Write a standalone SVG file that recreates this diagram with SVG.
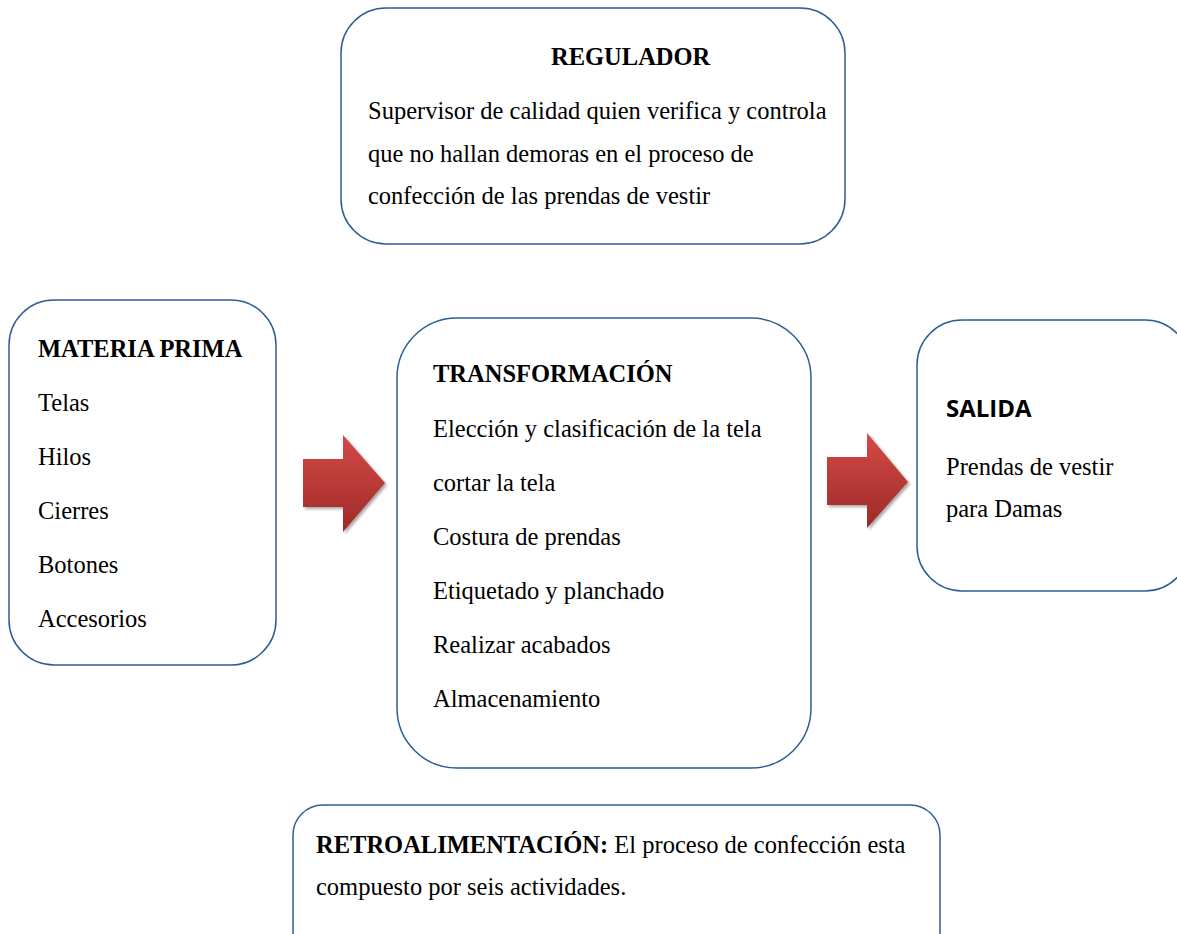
<svg xmlns="http://www.w3.org/2000/svg" width="1177" height="934" viewBox="0 0 1177 934">
<defs>
<linearGradient id="red" x1="0" y1="0" x2="0" y2="1">
<stop offset="0" stop-color="#d44a48"/>
<stop offset="1" stop-color="#9e2a27"/>
</linearGradient>
<filter id="sh" x="-20%" y="-20%" width="150%" height="150%">
<feGaussianBlur in="SourceAlpha" stdDeviation="1.5"/>
<feOffset dx="2" dy="2" result="b"/>
<feComponentTransfer><feFuncA type="linear" slope="0.35"/></feComponentTransfer>
<feMerge><feMergeNode/><feMergeNode in="SourceGraphic"/></feMerge>
</filter>
</defs>
<style>
.box{fill:#fff;stroke:#2f5d95;stroke-width:1.5}
.t{font-family:"Liberation Serif","Times New Roman",serif;font-size:24.5px;fill:#000}
.b{font-weight:bold}
.s{font-family:"Open Sans","Liberation Sans",sans-serif;font-size:24px;font-weight:bold;fill:#000}
.arr{fill:url(#red);filter:url(#sh)}
</style>
<rect width="1177" height="934" fill="#fff"/>
<g id="regulador">
<rect class="box" x="341" y="8" width="504" height="236" rx="45"/>
<text class="t b" x="551" y="65">REGULADOR</text>
<text class="t" x="368" y="119">Supervisor de calidad quien verifica y controla</text>
<text class="t" x="368" y="162">que no hallan demoras en el proceso de</text>
<text class="t" x="368" y="204">confección de las prendas de vestir</text>
</g>
<g id="materia">
<rect class="box" x="9" y="300" width="267" height="365" rx="45"/>
<text class="t b" x="38" y="357">MATERIA PRIMA</text>
<text class="t" x="38" y="411">Telas</text>
<text class="t" x="38" y="465">Hilos</text>
<text class="t" x="38" y="519">Cierres</text>
<text class="t" x="38" y="573">Botones</text>
<text class="t" x="38" y="627">Accesorios</text>
</g>
<g id="transformacion">
<rect class="box" x="397" y="318" width="414" height="450" rx="60"/>
<text class="t b" x="433" y="382">TRANSFORMACIÓN</text>
<text class="t" x="433" y="437">Elección y clasificación de la tela</text>
<text class="t" x="433" y="491">cortar la tela</text>
<text class="t" x="433" y="545">Costura de prendas</text>
<text class="t" x="433" y="599">Etiquetado y planchado</text>
<text class="t" x="433" y="653">Realizar acabados</text>
<text class="t" x="433" y="707">Almacenamiento</text>
</g>
<g id="salida">
<rect class="box" x="917" y="320" width="273" height="271" rx="45"/>
<text class="s" x="946" y="417">SALIDA</text>
<text class="t" x="946" y="475">Prendas de vestir</text>
<text class="t" x="946" y="517">para Damas</text>
</g>
<g id="retro">
<rect class="box" x="293" y="805" width="647" height="180" rx="30"/>
<text class="t" x="316" y="853"><tspan class="b">RETROALIMENTACIÓN:</tspan> El proceso de confección esta</text>
<text class="t" x="316" y="895">compuesto por seis actividades.</text>
</g>
<g id="connectors">
<polygon class="arr" points="303,459 343,459 343,435 385,483 343,532 343,507 303,507"/>
<polygon class="arr" points="827,457 867,457 867,433 908,482 867,528 867,505 827,505"/>
</g>
</svg>
